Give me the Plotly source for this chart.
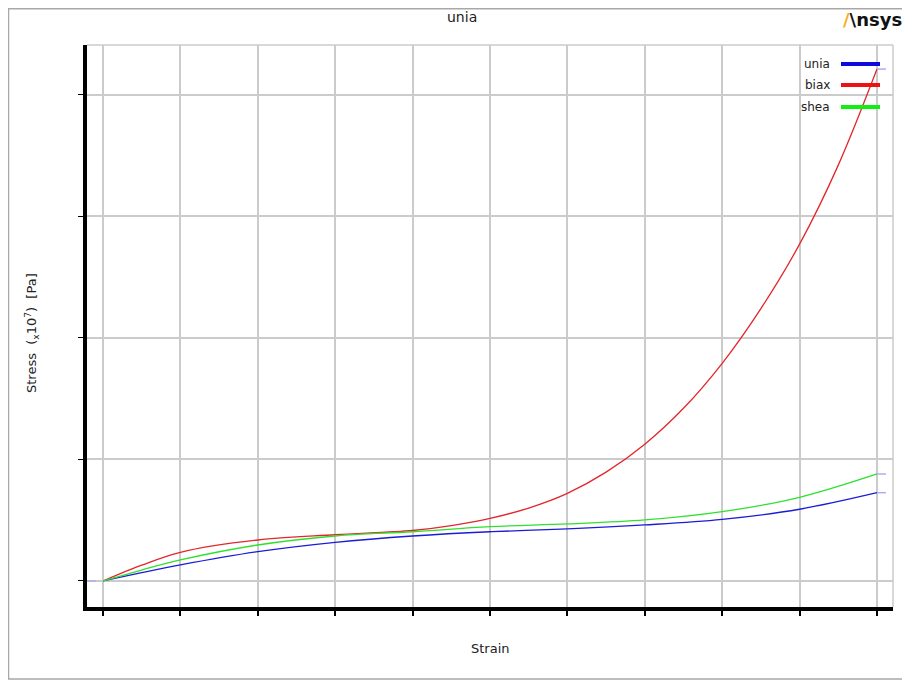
import plotly.graph_objects as go

# ---------------- data ----------------
series_names = ["unia", "biax", "shea"]
series_colors = ["#1c1cd6", "#e3262b", "#2fe02f"]
legend_colors = ["#0b0bdc", "#ee1111", "#11ee11"]

strain_unia = [0, 0.05, 0.1, 0.2, 0.3, 0.4, 0.5, 0.6, 0.7, 0.8, 0.9, 1.0]
stress_unia = [0, 0.068, 0.132, 0.241, 0.318, 0.370, 0.405, 0.428, 0.461, 0.507, 0.590, 0.726]

strain_biax = [0, 0.05, 0.1, 0.2, 0.3, 0.4, 0.45, 0.5, 0.55, 0.6, 0.65, 0.7, 0.75, 0.8, 0.85, 0.9, 0.95, 1.0]
stress_biax = [0, 0.13, 0.236, 0.337, 0.38, 0.415, 0.455, 0.515, 0.60, 0.721, 0.895, 1.125,
               1.42, 1.79, 2.24, 2.77, 3.42, 4.21]

strain_shea = [0, 0.05, 0.1, 0.2, 0.3, 0.4, 0.5, 0.6, 0.7, 0.8, 0.9, 1.0]
stress_shea = [0, 0.09, 0.173, 0.296, 0.370, 0.405, 0.447, 0.469, 0.502, 0.570, 0.688, 0.880]

x_tickvals = [0, 0.1, 0.2, 0.3, 0.4, 0.5, 0.6, 0.7, 0.8, 0.9, 1.0]
y_tickvals = [0, 1, 2, 3, 4]

title_text = "unia"
x_title = "Strain"
y_title = "Stress  (<sub>x</sub>10<sup>7</sup>)  [Pa]"

# ---------------- figure ----------------
OFF = 8                      # page body margin
W, H = 910 - OFF, 683 - OFF  # figure size
# plot area in page pixels: x 87..893, y 45..607
L, R, T, B = 87 - OFF, 910 - 893, 45 - OFF, 683 - 607
PW, PH = W - L - R, H - T - B
xr = [-0.0207, 1.0207]
yr = [-0.214, 4.408]

def px2x(px):
    return (px - OFF - L) / PW

def py2y(py):
    return 1 - (py - OFF - T) / PH

fig = go.Figure()
xs = [strain_unia, strain_biax, strain_shea]
ys = [stress_unia, stress_biax, stress_shea]
for name, c, x, y in zip(series_names, series_colors, xs, ys):
    fig.add_trace(go.Scatter(x=x, y=y, mode="lines", name=name,
                             line=dict(color=c, width=1.3, shape="spline", smoothing=1.0),
                             showlegend=False, hoverinfo="skip"))

font = "DejaVu Sans, Verdana, sans-serif"
fig.update_layout(
    width=W, height=H,
    margin=dict(l=L, r=R, t=T, b=B, pad=0),
    paper_bgcolor="white", plot_bgcolor="white",
    font=dict(family=font, color="#222222", size=13),
    showlegend=False,
)
fig.update_xaxes(range=xr, tickvals=x_tickvals, showticklabels=False,
                 showgrid=True, gridcolor="#cbcbcb", gridwidth=1.5,
                 zeroline=False, showline=True, linecolor="black", linewidth=4,
                 ticks="outside", ticklen=5, tickwidth=1.5, tickcolor="black")
fig.update_yaxes(range=yr, tickvals=y_tickvals, showticklabels=False,
                 showgrid=True, gridcolor="#cbcbcb", gridwidth=1.5,
                 zeroline=False, showline=True, linecolor="black", linewidth=4,
                 ticks="outside", ticklen=5, tickwidth=1, tickcolor="black")

shapes = []
# plot-area gray frame (top and right)
shapes.append(dict(type="line", xref="paper", yref="paper", x0=0, x1=1, y0=1, y1=1,
                   line=dict(color="#cbcbcb", width=1.5), layer="below"))
shapes.append(dict(type="line", xref="paper", yref="paper", x0=1, x1=1, y0=0, y1=1,
                   line=dict(color="#cbcbcb", width=1.5), layer="below"))
# outer border of the image
shapes.append(dict(type="rect", xref="paper", yref="paper",
                   x0=px2x(8.5), x1=px2x(905), y0=py2y(679), y1=py2y(8.8),
                   line=dict(color="#a8a8a8", width=1.5), fillcolor="rgba(0,0,0,0)"))
# end-value dashed markers
for y in ys:
    shapes.append(dict(type="line", xref="x", yref="y", x0=1.0, x1=xr[1], y0=y[-1], y1=y[-1],
                       line=dict(color="#aab0ee", width=1.5, dash="dash")))
shapes.append(dict(type="line", xref="x", yref="y", x0=xr[0], x1=0, y0=0, y1=0,
                   line=dict(color="#aab0ee", width=1.5, dash="dash")))

annotations = []
# manual legend (text left of line sample)
leg_y = [64, 85, 107]
for name, c, py in zip(series_names, legend_colors, leg_y):
    annotations.append(dict(text=name, xref="paper", yref="paper", x=px2x(832), y=py2y(py),
                            xanchor="right", yanchor="middle", showarrow=False,
                            font=dict(family=font, size=12, color="#222222")))
    shapes.append(dict(type="line", xref="paper", yref="paper", x0=px2x(841), x1=px2x(880),
                       y0=py2y(py), y1=py2y(py), line=dict(color=c, width=4)))

# title
annotations.append(dict(text=title_text, xref="paper", yref="paper", x=px2x(462), y=py2y(17),
                        xanchor="center", yanchor="middle", showarrow=False,
                        font=dict(family=font, size=14, color="#222222")))
# logo
annotations.append(dict(text="<b><span style='color:#f5b21f'>/</span>\\nsys</b>", xref="paper", yref="paper",
                        x=px2x(904), y=py2y(19), xanchor="right", yanchor="middle", showarrow=False,
                        font=dict(family="DejaVu Sans, sans-serif", size=18, color="#111111")))
# axis titles
annotations.append(dict(text=x_title, xref="paper", yref="paper", x=px2x(490), y=py2y(648),
                        xanchor="center", yanchor="middle", showarrow=False,
                        font=dict(family=font, size=13, color="#222222")))
annotations.append(dict(text=y_title, xref="paper", yref="paper", x=px2x(32), y=py2y(333),
                        xanchor="center", yanchor="middle", showarrow=False, textangle=-90,
                        font=dict(family=font, size=13, color="#222222")))

fig.update_layout(shapes=shapes, annotations=annotations)
fig.write_html("out.html")
